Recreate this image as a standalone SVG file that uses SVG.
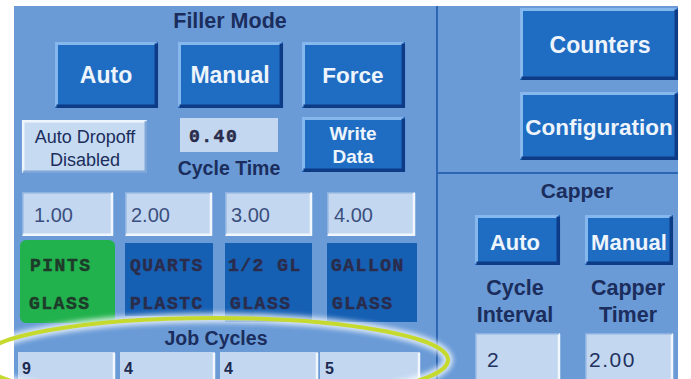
<svg xmlns="http://www.w3.org/2000/svg" width="691" height="379" viewBox="0 0 691 379">
  <defs>
    <style>
      .panel { fill: #6a9bd7; }
      .rule { stroke: #2d66b4; stroke-width: 2; fill: none; }
      .btn { fill: #1f6dc3; }
      .hi { fill: none; stroke: #86b8ee; stroke-width: 3; }
      .lo { fill: none; stroke: #0e3b86; stroke-width: 3.5; }
      .lbtn { fill: #c6dbf2; }
      .lhi { fill: none; stroke: #eef5fd; stroke-width: 2.5; }
      .llo { fill: none; stroke: #7ea6d8; stroke-width: 2.5; }
      .field { fill: #c3d8f0; }
      .fhi { fill: none; stroke: #f2f7fd; stroke-width: 2.5; }
      .flo { fill: none; stroke: #8db2e0; stroke-width: 1.5; }
      .prod { fill: #1660b4; }
      .green { fill: #22b24d; }
      .sans { font-family: "Liberation Sans", Arial, sans-serif; }
      .bt { font-weight: bold; fill: #eef4fb; text-anchor: middle; }
      .lab { font-weight: bold; fill: #1b2d5c; text-anchor: middle; }
      .plain { fill: #1b2d5c; text-anchor: middle; }
      .val { fill: #3b4f7e; font-size: 20px; }
      .cval { fill: #1f3160; font-size: 21px; letter-spacing: 1.5px; }
      .mono { font-family: "Liberation Mono", "DejaVu Sans Mono", monospace; font-weight: bold; fill: #2a2c4c; stroke: #2a2c4c; stroke-width: 0.5; font-size: 18px; letter-spacing: 1.5px; }
      .gtxt { fill: #1d3a2a; stroke: #1d3a2a; }
      .jv { font-weight: bold; fill: #1c2a50; font-size: 16px; }
      .ring { fill: none; stroke: #c5d92f; stroke-width: 4; }
      .glow { fill: none; stroke: #ffffff; stroke-width: 10; opacity: 0.75; }
    </style>
    <filter id="soft" x="-10%" y="-30%" width="120%" height="160%">
      <feGaussianBlur stdDeviation="2.5"/>
    </filter>
  </defs>

  <rect width="691" height="379" fill="#ffffff"/>
  <rect class="panel" x="14" y="6" width="664" height="373"/>

  <!-- section dividers -->
  <g id="dividers">
    <line class="rule" x1="437" y1="6" x2="437" y2="379"/>
    <line class="rule" x1="437" y1="173" x2="678" y2="173"/>
  </g>

  <!-- Filler mode section -->
  <text class="sans lab" x="230" y="28" font-size="21.5">Filler Mode</text>

  <g id="btn-auto">
    <rect class="btn" x="55" y="42" width="103" height="66"/>
    <path class="hi" d="M56.5,106.5 V43.5 H156.5"/>
    <path class="lo" d="M156.3,43.5 V106.3 H56.5"/>
    <text class="sans bt" x="106" y="83" font-size="23">Auto</text>
  </g>
  <g id="btn-manual">
    <rect class="btn" x="178" y="42" width="105" height="66"/>
    <path class="hi" d="M179.5,106.5 V43.5 H281.5"/>
    <path class="lo" d="M281.3,43.5 V106.3 H179.5"/>
    <text class="sans bt" x="230" y="83" font-size="23">Manual</text>
  </g>
  <g id="btn-force">
    <rect class="btn" x="302" y="42" width="103" height="66"/>
    <path class="hi" d="M303.5,106.5 V43.5 H403.5"/>
    <path class="lo" d="M403.3,43.5 V106.3 H303.5"/>
    <text class="sans bt" x="353" y="83" font-size="22.5">Force</text>
  </g>

  <g id="btn-dropoff">
    <rect class="lbtn" x="22" y="120" width="125" height="53"/>
    <path class="lhi" d="M23.2,171.8 V121.2 H145.8"/>
    <path class="llo" d="M145.8,121.2 V171.8 H23.2"/>
    <text class="sans plain" x="85" y="143" font-size="18">Auto Dropoff</text>
    <text class="sans plain" x="85" y="166" font-size="18">Disabled</text>
  </g>

  <g id="cycle-time">
    <rect class="field" x="180" y="118" width="98" height="34"/>
    <text class="mono" x="189" y="142" font-size="15" letter-spacing="3.5">0.40</text>
    <text class="sans lab" x="229" y="175" font-size="19.5">Cycle Time</text>
  </g>

  <g id="btn-write">
    <rect class="btn" x="302" y="117" width="103" height="55"/>
    <path class="hi" d="M303.5,170.5 V118.5 H403.5"/>
    <path class="lo" d="M403.3,118.5 V170.3 H303.5"/>
    <text class="sans bt" x="353" y="140" font-size="19">Write</text>
    <text class="sans bt" x="353" y="163" font-size="19">Data</text>
  </g>

  <!-- per-size set points -->
  <g id="setpoints">
    <rect class="field" x="22" y="192" width="91" height="44"/>
    <path class="flo" d="M22.8,235 V192.8 H112"/>
    <path class="fhi" d="M112,193 V234.8 H23"/>
    <text class="sans val" x="34" y="222">1.00</text>

    <rect class="field" x="125" y="192" width="87" height="44"/>
    <path class="flo" d="M125.8,235 V192.8 H211"/>
    <path class="fhi" d="M211,193 V234.8 H126"/>
    <text class="sans val" x="131" y="222">2.00</text>

    <rect class="field" x="225" y="192" width="87" height="44"/>
    <path class="flo" d="M225.8,235 V192.8 H311"/>
    <path class="fhi" d="M311,193 V234.8 H226"/>
    <text class="sans val" x="231" y="222">3.00</text>

    <rect class="field" x="327" y="192" width="88" height="44"/>
    <path class="flo" d="M327.8,235 V192.8 H414"/>
    <path class="fhi" d="M414,193 V234.8 H328"/>
    <text class="sans val" x="334" y="222">4.00</text>
  </g>

  <!-- container types -->
  <g id="prod-pints">
    <rect class="green" x="20" y="240" width="95" height="83" rx="6"/>
    <text class="mono gtxt" x="30" y="271">PINTS</text>
    <text class="mono gtxt" x="29" y="309">GLASS</text>
  </g>
  <g id="prod-quarts">
    <rect class="prod" x="125" y="243" width="88" height="73"/>
    <text class="mono" x="130" y="271">QUARTS</text>
    <text class="mono" x="130" y="309">PLASTC</text>
  </g>
  <g id="prod-halfgal">
    <rect class="prod" x="225" y="243" width="87" height="79"/>
    <text class="mono" x="228" y="271">1/2 GL</text>
    <text class="mono" x="230" y="309">GLASS</text>
  </g>
  <g id="prod-gallon">
    <rect class="prod" x="327" y="243" width="90" height="79"/>
    <text class="mono" x="331" y="271">GALLON</text>
    <text class="mono" x="332" y="309">GLASS</text>
  </g>

  <!-- job cycle counts -->
  <g id="job-cycles">
    <text class="sans lab" x="216" y="345" font-size="19.5">Job Cycles</text>
    <rect class="field" x="18" y="352" width="97" height="27"/>
    <path class="fhi" d="M114,353 V379"/>
    <text class="sans jv" x="22" y="374">9</text>
    <rect class="field" x="120" y="352" width="95" height="27"/>
    <path class="fhi" d="M214,353 V379"/>
    <text class="sans jv" x="124" y="374">4</text>
    <rect class="field" x="220" y="352" width="98" height="27"/>
    <path class="fhi" d="M317,353 V379"/>
    <text class="sans jv" x="224" y="374">4</text>
    <rect class="field" x="320" y="352" width="100" height="27"/>
    <path class="fhi" d="M419,353 V379"/>
    <text class="sans jv" x="325" y="374">5</text>
  </g>

  <!-- navigation -->
  <g id="btn-counters">
    <rect class="btn" x="520" y="8" width="158" height="72"/>
    <path class="hi" d="M521.5,78.5 V9.5 H676.5"/>
    <path class="lo" d="M676.3,9.5 V78.3 H521.5"/>
    <text class="sans bt" x="600" y="53" font-size="23">Counters</text>
  </g>
  <g id="btn-config">
    <rect class="btn" x="520" y="92" width="158" height="68"/>
    <path class="hi" d="M521.5,158.5 V93.5 H676.5"/>
    <path class="lo" d="M676.3,93.5 V158.3 H521.5"/>
    <text class="sans bt" x="599" y="135" font-size="22.5">Configuration</text>
  </g>

  <!-- Capper section -->
  <text class="sans lab" x="577" y="198" font-size="21">Capper</text>

  <g id="cap-auto">
    <rect class="btn" x="475" y="215" width="85" height="50"/>
    <path class="hi" d="M476.5,263.5 V216.5 H558.5"/>
    <path class="lo" d="M558.3,216.5 V263.3 H476.5"/>
    <text class="sans bt" x="515" y="250" font-size="22">Auto</text>
  </g>
  <g id="cap-manual">
    <rect class="btn" x="585" y="215" width="88" height="50"/>
    <path class="hi" d="M586.5,263.5 V216.5 H671.5"/>
    <path class="lo" d="M671.3,216.5 V263.3 H586.5"/>
    <text class="sans bt" x="629" y="250" font-size="22">Manual</text>
  </g>

  <g id="cap-interval">
    <text class="sans lab" x="515" y="295" font-size="21.5">Cycle</text>
    <text class="sans lab" x="515" y="322" font-size="21.5">Interval</text>
    <rect class="field" x="475" y="333" width="85" height="46"/>
    <path class="fhi" d="M559,334 V379"/>
    <path class="flo" d="M475.8,379 V333.8 H559"/>
    <text class="sans cval" x="487" y="367">2</text>
  </g>
  <g id="cap-timer">
    <text class="sans lab" x="628" y="295" font-size="21.5">Capper</text>
    <text class="sans lab" x="628" y="322" font-size="21.5">Timer</text>
    <rect class="field" x="585" y="333" width="88" height="46"/>
    <path class="fhi" d="M672,334 V379"/>
    <path class="flo" d="M585.8,379 V333.8 H672"/>
    <text class="sans cval" x="589" y="367">2.00</text>
  </g>

  <!-- highlight ring round the job cycle row -->
  <g id="highlight">
    <ellipse class="glow" cx="214" cy="360" rx="234" ry="42" filter="url(#soft)"/>
    <ellipse class="ring" cx="214" cy="360" rx="234" ry="42"/>
  </g>
</svg>
